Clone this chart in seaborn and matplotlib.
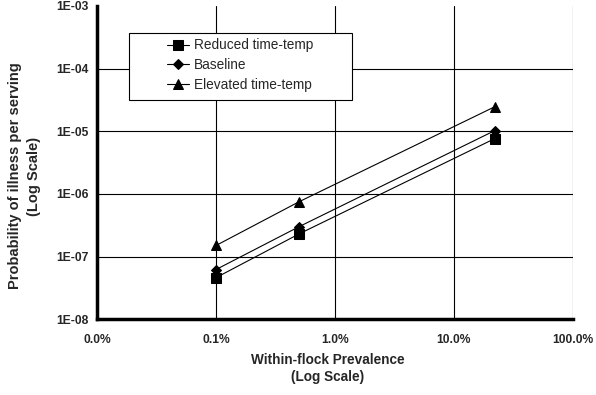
import numpy as np
import pandas as pd
import matplotlib
matplotlib.use("Agg")
import matplotlib.pyplot as plt
import seaborn as sns
from matplotlib.patches import Rectangle
from matplotlib.ticker import FixedLocator, FuncFormatter, NullLocator

# values
prevalence = [0.001, 0.005, 0.22]
scenarios = ["Reduced time-temp", "Baseline", "Elevated time-temp"]
reduced = [4.6e-8, 2.3e-7, 7.6e-6]
baseline = [6.2e-8, 3.0e-7, 1.02e-5]
elevated = [1.5e-7, 7.5e-7, 2.45e-5]

df = pd.DataFrame({
    "prev": prevalence * 3,
    "prob": reduced + baseline + elevated,
    "scenario": np.repeat(scenarios, len(prevalence)),
})

sns.set_style("white")
plt.rcParams["font.family"] = ["Liberation Sans", "DejaVu Sans"]

fig = plt.figure(figsize=(5.96, 3.95), dpi=100)
ax = fig.add_axes([0.163, 0.192, 0.798, 0.793])

sns.lineplot(data=df, x="prev", y="prob", hue="scenario", style="scenario",
             palette=["black"] * 3, markers={"Reduced time-temp": "s", "Baseline": "D",
                                              "Elevated time-temp": "^"},
             dashes=False, markersize=7, linewidth=0.8, markeredgecolor="black", ax=ax)
# diamonds are a bit smaller in the original
for ln in ax.lines:
    if ln.get_marker() == "D":
        ln.set_markersize(5.5)

ax.set_xscale("log")
ax.set_yscale("log")
ax.set_xlim(1e-4, 1)
ax.set_ylim(1e-8, 1e-3)

ax.xaxis.set_major_locator(FixedLocator([1e-4, 1e-3, 1e-2, 1e-1, 1]))
ax.xaxis.set_minor_locator(NullLocator())
ax.xaxis.set_major_formatter(FuncFormatter(lambda v, p: f"{v*100:.1f}%"))
ax.yaxis.set_major_locator(FixedLocator([1e-8, 1e-7, 1e-6, 1e-5, 1e-4, 1e-3]))
ax.yaxis.set_minor_locator(NullLocator())
ax.yaxis.set_major_formatter(FuncFormatter(lambda v, p: f"1E-{int(round(-np.log10(v))):02d}"))

ax.grid(True, color="black", linewidth=0.8)
for s in ["top", "right"]:
    ax.spines[s].set_visible(False)
for s in ["left", "bottom"]:
    ax.spines[s].set_linewidth(2.5)
    ax.spines[s].set_color("black")

ax.tick_params(axis="both", which="major", direction="out", length=3, width=1.5,
               color="black", labelsize=8.7, pad=3)
ax.tick_params(axis="x", pad=8)
for lab in ax.get_xticklabels() + ax.get_yticklabels():
    lab.set_fontweight("bold")

ax.set_xlabel("Within-flock Prevalence\n(Log Scale)", fontsize=9.8, fontweight="bold",
              linespacing=1.25)
ax.set_ylabel("Probability of illness per serving\n(Log Scale)", fontsize=10.5,
              fontweight="bold", linespacing=1.45)
ax.xaxis.set_label_coords(0.484, -0.108)
ax.yaxis.set_label_coords(-0.118, 0.457)

# legend without its own frame, box drawn separately so the left padding matches
leg = ax.legend(loc="center left", bbox_to_anchor=(0.147, 0.811), fontsize=9.8,
                frameon=False, handlelength=1.6, handletextpad=0.4,
                borderpad=0, labelspacing=0.42, borderaxespad=0)
leg.set_title(None)
for h in leg.legend_handles:
    if h.get_marker() == "D":
        h.set_markersize(5.5)
ax.add_patch(Rectangle((0.067, 0.700), 0.469, 0.214, transform=ax.transAxes,
                       facecolor="white", edgecolor="black", linewidth=0.8, zorder=4))
leg.set_zorder(5)

# no gridline along the top edge in the original
fig.canvas.draw()
ax.yaxis.get_gridlines()[-1].set_visible(False)

fig.savefig("out.png", dpi=100)
